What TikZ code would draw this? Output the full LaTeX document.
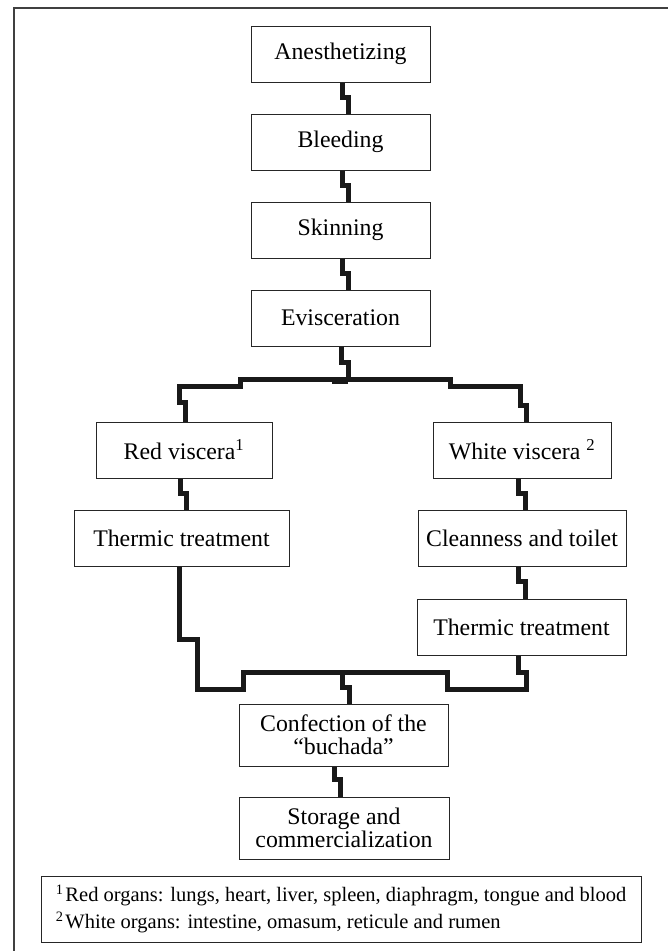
\documentclass[tikz,border=0pt]{standalone}
\usepackage{fontspec}
\setmainfont{Liberation Serif}
\begin{document}
\begin{tikzpicture}[x=1pt,y=-1pt,
  box/.style={draw=black!85, line width=1pt, inner sep=0pt, align=center,
    font=\fontsize{23.8}{23}\selectfont, minimum height=56},
  conn/.style={line width=5pt, draw=black!90},
  frame/.style={line width=1.3pt, draw=black!75}]
\useasboundingbox (0,0) rectangle (668,951);
\draw[frame] (14,951) -- (14,8) -- (668,8);

\node[box, minimum width=179] (anes)  at (340.5,54)  {Anesthetizing};
\node[box, minimum width=179] (bleed) at (340.5,142) {Bleeding};
\node[box, minimum width=179] (skin)  at (340.5,230) {Skinning};
\node[box, minimum width=179] (evis)  at (340.5,318) {Evisceration};
\node[box, minimum width=176] (red)   at (184,450)   {Red viscera\textsuperscript{1}};
\node[box, minimum width=178] (white) at (522,450)   {White viscera \textsuperscript{2}};
\node[box, minimum width=215] (therL) at (181.5,538) {Thermic treatment};
\node[box, minimum width=208] (clean) at (522,538)   {Cleanness and toilet};
\node[box, minimum width=209] (therR) at (521.5,627) {Thermic treatment};
\node[box, minimum width=209, minimum height=62] (conf) at (343.5,735) {Confection of the\\``buchada''};
\node[box, minimum width=210, minimum height=62] (stor) at (344,828) {Storage and\\commercialization};
\node[box, minimum width=600, minimum height=66, align=left,
  font=\fontsize{20.5}{27}\selectfont] (foot) at (341,909)
  {\textsuperscript{1}\kern2pt Red organs: lungs, heart, liver, spleen, diaphragm, tongue and blood\\
   \textsuperscript{2}\kern2pt White organs: intestine, omasum, reticule and rumen};

% main chain
\draw[conn] ([xshift=1.5]anes.south)  -- ++(0,15) -| ([xshift=7.5]bleed.north);
\draw[conn] ([xshift=1.5]bleed.south) -- ++(0,15) -| ([xshift=7.5]skin.north);
\draw[conn] ([xshift=1.5]skin.south)  -- ++(0,15) -| ([xshift=7.5]evis.north);

% split
\coordinate (jt) at (348,379.5);
\draw[conn] ([xshift=0.5]evis.south) -- ++(0,16) -| (jt);
\fill[black!90] (332,378) rectangle (348,384);
\draw[conn] ([xshift=1]red.north) -- ++(0,-19) -- ++(-5.5,0) -- ++(0,-16)
  -- ++(60.5,0) -- ++(0,-7.5) -- ++(210,0) -- ++(0,7.5) -- ++(70,0)
  -- ++(0,19) -- ++(6,0) -- ([xshift=4]white.north);

% branches
\draw[conn] ([xshift=-4]red.south)   -- ++(0,15) -| ([xshift=4.5]therL.north);
\draw[conn] ([xshift=-4]white.south) -- ++(0,15) -| ([xshift=3]clean.north);
\draw[conn] ([xshift=-4]clean.south) -- ++(0,15) -| ([xshift=3.5]therR.north);

% merge
\draw[conn] ([xshift=-2.5]therL.south) -- ++(0,73) -- ++(18,0) -- ++(0,50)
  -- ++(46,0) -- ++(0,-17) -- ++(204,0) -- ++(0,17) -- ++(79,0) -- ++(0,-17)
  -- ++(-8,0) -- ([xshift=-3.5]therR.south);
\coordinate (jb) at (342,672);
\draw[conn] (jb) -- ++(0,15) -| ([xshift=5.5]conf.north);

\draw[conn] ([xshift=-9.5]conf.south) -- ++(0,13) -| ([xshift=-3.5]stor.north);
\end{tikzpicture}
\end{document}
